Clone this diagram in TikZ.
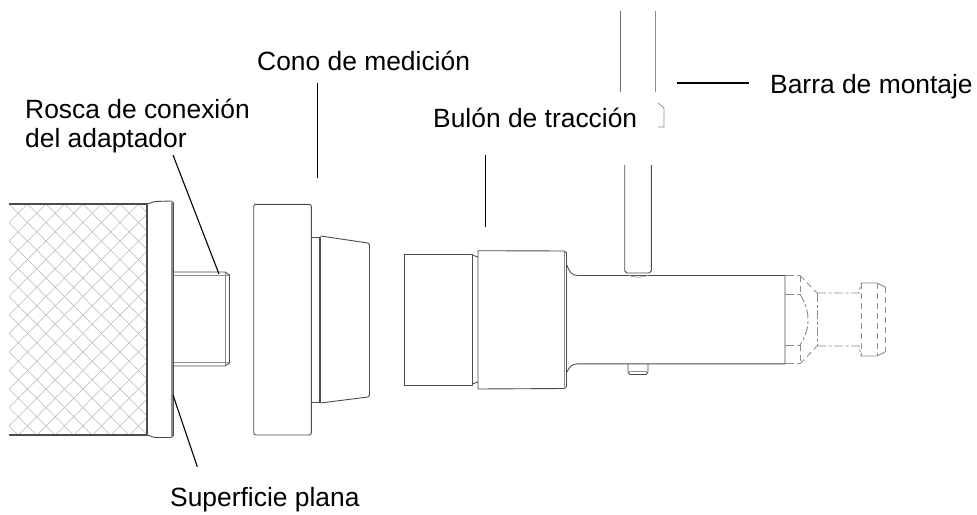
\documentclass[tikz,border=0pt]{standalone}
\usepackage{fontspec}
\setmainfont{Liberation Sans}
\definecolor{ln}{gray}{0.3}
\definecolor{dsh}{gray}{0.55}
\definecolor{knurl}{gray}{0.72}
\tikzset{
  part/.style={draw=ln,line width=0.9pt,line join=round},
  thin part/.style={draw=dsh,line width=0.9pt},
  hidden part/.style={draw=dsh,line width=0.9pt,dash pattern=on 9pt off 2.5pt on 3pt off 2.5pt},
  short part/.style={draw=dsh,line width=0.9pt,dash pattern=on 6pt off 4pt},
  leader/.style={draw=black,line width=1.1pt},
  lbl/.style={inner sep=0pt,font=\fontsize{26.4}{32}\selectfont,anchor=base west,align=left}
}
\begin{document}
\begin{tikzpicture}[x=1pt,y=-1pt]
\useasboundingbox (0,0) rectangle (977,514);
% knurl
\begin{scope}
\clip (9,204) rectangle (147,435);
\foreach \i in {-30,...,30}{
  \draw[knurl,line width=0.6pt] (9+\i*18.5,204) -- ++(260,260);
  \draw[knurl,line width=0.6pt] (9+\i*18.5,204) -- ++(-260,260);
}
\end{scope}
\draw[part,line width=1.1pt] (9,204) -- (147,204) -- (147,435) -- (9,435);
% adapter collar
\draw[part] (147,204) -- (155,201.5) -- (171,201) -- (173.5,203) -- (173.5,435.5) -- (171,437.5) -- (155,437.5) -- (147,435);
\draw[thin part,line width=1.2pt] (172,203) -- (172,436);
% thread
\draw[part] (174,272) -- (225,272) -- (229.5,275) -- (229.5,363) -- (225,366) -- (174,366);
\draw[thin part,line width=0.6pt] (174,275.5) -- (229,275.5) (174,362.5) -- (229,362.5);
\draw[thin part] (225.5,273) -- (225.5,365);
% cone
\draw[part,rounded corners=2pt] (253.7,204.3) rectangle (311.3,435);
\draw[part] (311.3,237) -- (319,237) (311.3,402) -- (319,402);
\draw[part,line width=1.4pt] (319.8,236.5) -- (319.8,403);
\draw[part] (320.5,236) -- (368,243) -- (369.5,245) -- (369.5,395) -- (368,397) -- (320.5,403);
% pull stud
\draw[part] (404,254.5) rectangle (472,385);
\draw[part] (472,255) -- (478,257) (472,384) -- (478,382);
\draw[part] (566,252.5) -- (564.5,251) -- (478,250.7) -- (478,389) -- (564.5,388.5) -- (566,387);
\draw[part] (566,252) -- (566,387);
\draw[thin part] (564.3,252) -- (564.3,387);
\draw[part] (567,265) .. controls (569,272) and (572,275.5) .. (578,275.5) -- (785,275.5) -- (785,363.8) -- (578,363.8) .. controls (572,363.8) and (569,367) .. (567,372);
% rod
\draw[part] (624.7,165) -- (624.7,271) -- (627,273) -- (649,273) -- (651.3,271) -- (651.3,165);
\draw[thin part,line width=0.6pt] (628,275) .. controls (634,278) and (642,278) .. (649,275);
% pin
\draw[part] (628,364) -- (628,372) -- (630,374.5) -- (646,374.5) -- (648,372) -- (648,364);
\draw[thin part,line width=0.6pt] (629,371) -- (647,371);
% upper rod pieces
\draw[part,draw=ln!80] (620.7,11) -- (620.7,92);
\draw[thin part] (655.3,11) -- (655.3,92);
\draw[thin part,line width=0.7pt] (658,103) -- (664,108) -- (664,127) -- (658,127);
% tail
\draw[hidden part] (785,275.5) -- (800,275.5) (785,294) -- (800,294) (785,345) -- (800,345) (785,363.8) -- (800,363.8);
\draw[short part] (800,275.5) -- (800,294) (800,345) -- (800,363.8);
\draw[short part] (800,275.5) -- (817,293) (800,363.8) -- (817,346);
\draw[hidden part] (800,294) .. controls (806,304) and (808,312) .. (808,320) .. controls (808,328) and (806,336) .. (800,345);
\draw[hidden part] (817,293) -- (817,346);
\draw[hidden part] (817,293) -- (859,293) -- (861,283) (817,346) -- (859,346) -- (861,356);
\draw[thin part] (861,283) -- (877,283) -- (885,287) (861,356) -- (877,356) -- (885,352);
\draw[short part] (861.5,283) -- (861.5,356);
\draw[short part] (877,283) -- (877,356);
\draw[short part] (885,287) -- (885,352);
% leaders
\coordinate (l1a) at (173,155); \coordinate (l1b) at (219,274);
\coordinate (l2a) at (173,395); \coordinate (l2b) at (197.3,466.7);
\coordinate (l3a) at (317.5,83); \coordinate (l3b) at (317.5,178);
\coordinate (l4a) at (485.5,155); \coordinate (l4b) at (485.5,226.6);
\coordinate (l5a) at (677,83); \coordinate (l5b) at (749,83);
\draw[leader] (l1a) -- (l1b);
\draw[leader] (l2a) -- (l2b);
\draw[leader] (l3a) -- (l3b);
\draw[leader] (l4a) -- (l4b);
\draw[leader] (l5a) -- (l5b);
% labels
\node[lbl] (t1) at (257,70) {Cono de medición};
\node[lbl] (t2) at (25,118) {Rosca de conexión};
\node[lbl] (t3) at (25,147.7) {del adaptador};
\node[lbl] (t4) at (433,127.7) {Bulón de tracción};
\node[lbl] (t5) at (770,93.3) {Barra de montaje};
\node[lbl] (t6) at (170,506) {Superficie plana};
\end{tikzpicture}
\end{document}
